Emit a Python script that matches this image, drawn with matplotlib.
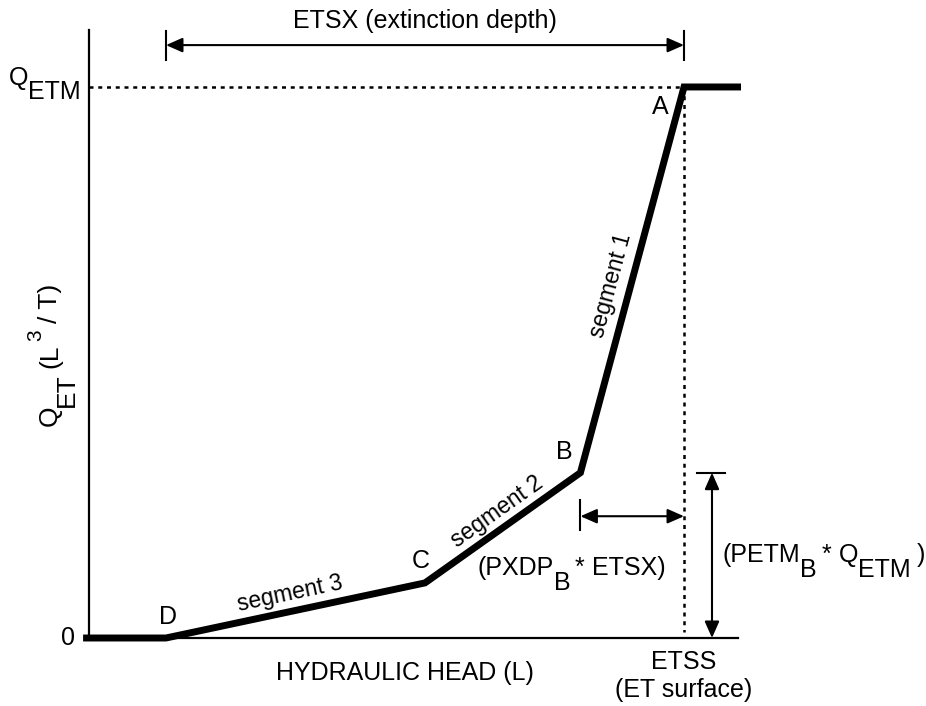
import numpy as np
import matplotlib.pyplot as plt
from matplotlib.transforms import Affine2D

plt.rcParams['font.family'] = ['Liberation Sans', 'DejaVu Sans']
FS = 18

# ET rate curve: head in units of ETSX (0 = ETSS - ETSX), rate in units of QETM
head = [-0.16, 0.0, 0.5, 0.8, 1.0, 1.11]
q_et = [0.0, 0.0, 0.1, 0.3, 1.0, 1.0]
pt_names = ['D', 'C', 'B', 'A']
pt_idx = [1, 2, 3, 4]
etss = 1.0
etsx = 1.0
q_etm = 1.0
pxdp_b = 0.2
petm_b = 0.3

fig = plt.figure(figsize=(9.26, 7.06), dpi=100)
ax = fig.add_axes([89 / 926, 68 / 706, 649 / 926, 608 / 706])
ax.set_xlim(-0.1486, 1.1042)
ax.set_ylim(0, 1.1034)
for s in ['top', 'right']:
    ax.spines[s].set_visible(False)
for s in ['left', 'bottom']:
    ax.spines[s].set_linewidth(1.6)
ax.set_xticks([])
ax.set_yticks([])


def rich(x, y, pieces, ha='left', rotation=0, fs=FS):
    # pieces: (text, vertical shift pt, gap before pt, size)
    r = fig.canvas.get_renderer()
    k = fig.dpi / 72
    ws = []
    for p in pieces:
        t = ax.text(0, 0, p[0], fontsize=p[3] if len(p) > 3 else fs)
        ws.append(t.get_window_extent(r).width)
        t.remove()
    total = sum(ws) + sum(p[2] for p in pieces) * k
    off = {'left': 0, 'center': -total / 2, 'right': -total}[ha]
    a = np.deg2rad(rotation)
    for p, w in zip(pieces, ws):
        off += p[2] * k
        dy = p[1] * k
        ox = off * np.cos(a) - dy * np.sin(a)
        oy = off * np.sin(a) + dy * np.cos(a)
        ax.text(x, y, p[0], transform=ax.transData + Affine2D().translate(ox, oy),
                rotation=rotation, rotation_mode='anchor', ha='left', va='baseline',
                fontsize=p[3] if len(p) > 3 else fs, clip_on=False)
        off += w


def arrow(p0, p1):
    ax.annotate('', xy=p1, xytext=p0, annotation_clip=False,
                arrowprops=dict(arrowstyle='<|-|>,head_length=0.5,head_width=0.22',
                                mutation_scale=20, lw=1.5, color='k',
                                shrinkA=0, shrinkB=0))


# curve
ax.plot(head, q_et, color='k', lw=5, solid_joinstyle='miter',
        solid_capstyle='butt', clip_on=False, zorder=5)

# dotted guides
ax.plot([-0.1486, etss], [q_etm, q_etm], color='k', lw=1.8, dashes=(1.6, 1.9), clip_on=False)
ax.plot([etss, etss], [q_etm, 0.01], color='k', lw=1.8, dashes=(1.6, 1.9), clip_on=False)

# point labels
offs = {'D': (2, 21), 'C': (-4, 22), 'B': (-16, 21), 'A': (-24, -20)}
for n, i in zip(pt_names, pt_idx):
    ax.annotate(n, (head[i], q_et[i]), xytext=offs[n], textcoords='offset pixels',
                ha='center', va='center', fontsize=FS)

# segment labels
seg_pos = [(0.859, 0.641, 3, 4, 'segment 1'),
           (0.639, 0.229, 2, 3, 'segment 2'),
           (0.239, 0.080, 1, 2, 'segment 3')]
for x, y, i0, i1, s in seg_pos:
    p0 = ax.transData.transform((head[i0], q_et[i0]))
    p1 = ax.transData.transform((head[i1], q_et[i1]))
    ang = np.degrees(np.arctan2(p1[1] - p0[1], p1[0] - p0[0]))
    ax.text(x, y, s, rotation=ang, rotation_mode='anchor', ha='center', va='center',
            fontsize=FS - 1.5)

# ETSX arrow
y_top = 1.076
ax.plot([etss - etsx] * 2, [1.049, 1.1016], color='k', lw=1.5, clip_on=False)
ax.plot([etss] * 2, [1.049, 1.1016], color='k', lw=1.5, clip_on=False)
arrow((etss - etsx, y_top), (etss, y_top))
ax.text((2 * etss - etsx) / 2, 1.120, 'ETSX (extinction depth)', ha='center',
        va='center', fontsize=FS, clip_on=False)

# PXDP arrow
xb = etss - pxdp_b * etsx
ax.plot([xb, xb], [0.196, 0.250], color='k', lw=1.5)
arrow((xb, 0.221), (etss, 0.221))
rich(0.602, 0.114, [('(PXDP', 0, 0), ('B', -11, 0), ('*', 0, 2.5), ('ETSX)', 0, 6)])

# PETM arrow
xp = 1.054
ax.plot([1.025, 1.079], [petm_b * q_etm] * 2, color='k', lw=1.5, clip_on=False)
arrow((xp, petm_b * q_etm), (xp, 0))
rich(1.075, 0.138, [('(PETM', 0, 0), ('B', -11, 0), ('*', 0, 3.5), ('Q', 0, 5),
                    ('ETM', -11, 0), (')', 0, 4)])

# axis labels
ax.text(-0.1757, 0, '0', ha='right', va='center', fontsize=FS, clip_on=False)
rich(-0.165, 1.003, [('Q', 0, 0), ('ETM', -10, 0)], ha='right')
rich(-0.2104, 0.514, [('Q', 0, 0), ('ET', -12, -1), ('(L', 0, 4), ('3', 11, 2, 15),
                      ('/ T)', 0, 5)], ha='center', rotation=90, fs=19)
ax.text(0.461, -0.0635, 'HYDRAULIC HEAD (L)', ha='center', va='center', fontsize=FS,
        clip_on=False)
ax.text(etss, -0.044, 'ETSS', ha='center', va='center', fontsize=FS, clip_on=False)
ax.text(etss, -0.094, '(ET surface)', ha='center', va='center', fontsize=FS,
        clip_on=False)

fig.savefig('out.png', dpi=100)
